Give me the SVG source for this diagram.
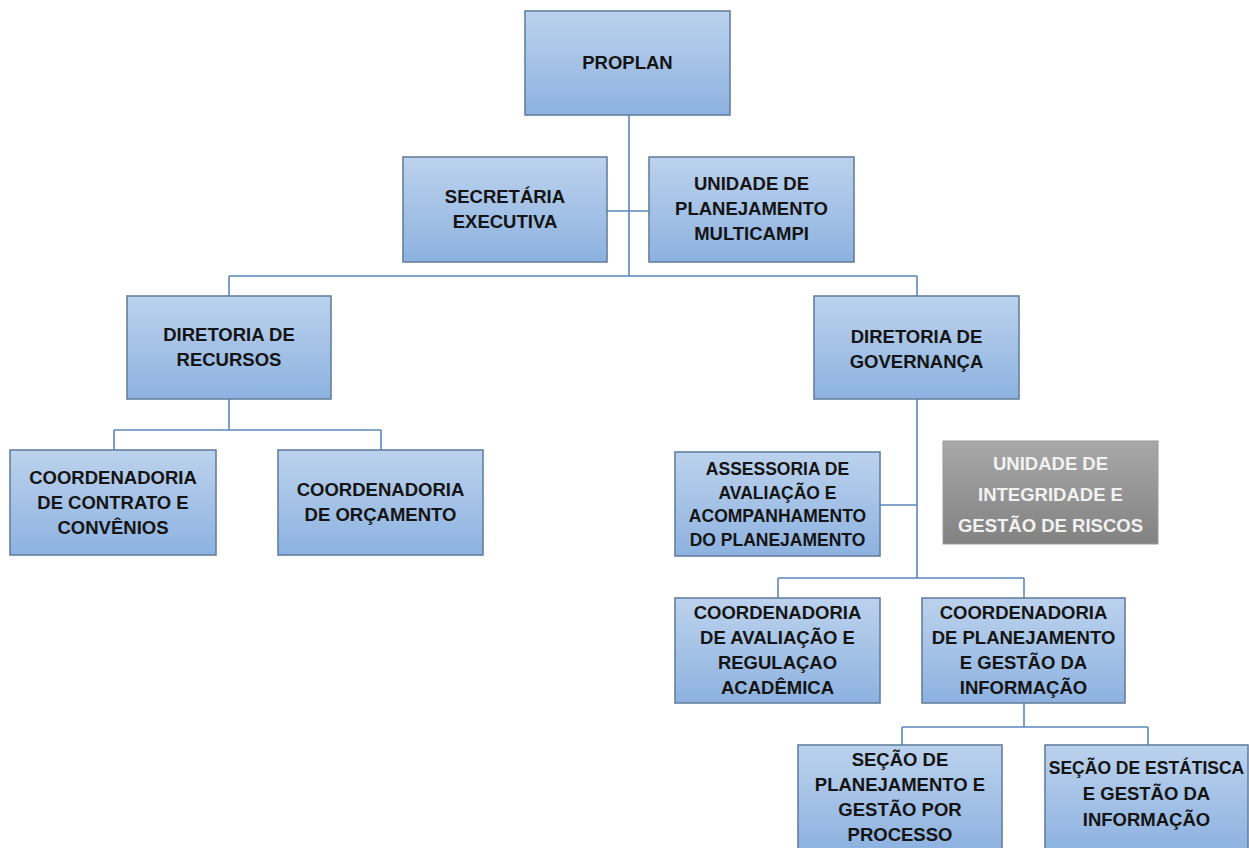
<svg xmlns="http://www.w3.org/2000/svg" width="1249" height="848" viewBox="0 0 1249 848">
<defs>
<linearGradient id="gb" x1="0" y1="0" x2="0" y2="1">
<stop offset="0" stop-color="#bcd2ed"/>
<stop offset="1" stop-color="#8db2e0"/>
</linearGradient>
<linearGradient id="gg" x1="0" y1="0" x2="0" y2="1">
<stop offset="0" stop-color="#a8a8a8"/>
<stop offset="1" stop-color="#828282"/>
</linearGradient>
<style>
.b{fill:url(#gb);stroke:#64809f;stroke-width:1.6}
.g{fill:url(#gg);stroke:#9a9a9a;stroke-width:1}
text{font-family:"Liberation Sans",Arial,sans-serif;font-weight:bold;font-size:18.5px;fill:#141414;text-anchor:middle}
.w{fill:#f2f2f2}
.s{font-size:17.5px}
.c line{stroke:#5b87ba;stroke-width:1.6}
</style>
</defs>
<rect width="1249" height="848" fill="#ffffff"/>
<g class="c" id="connectors">
<line x1="629" y1="115" x2="629" y2="276"/>
<line x1="607" y1="211" x2="649" y2="211"/>
<line x1="229" y1="276" x2="917" y2="276"/>
<line x1="229" y1="276" x2="229" y2="296"/>
<line x1="917" y1="276" x2="917" y2="296"/>
<line x1="229" y1="399" x2="229" y2="430"/>
<line x1="114" y1="430" x2="381" y2="430"/>
<line x1="114" y1="430" x2="114" y2="450"/>
<line x1="381" y1="430" x2="381" y2="450"/>
<line x1="917" y1="399" x2="917" y2="578"/>
<line x1="880" y1="505" x2="917" y2="505"/>
<line x1="778" y1="578" x2="1024" y2="578"/>
<line x1="778" y1="578" x2="778" y2="598"/>
<line x1="1024" y1="578" x2="1024" y2="598"/>
<line x1="1024" y1="703" x2="1024" y2="727"/>
<line x1="902" y1="727" x2="1148" y2="727"/>
<line x1="902" y1="727" x2="902" y2="745"/>
<line x1="1148" y1="727" x2="1148" y2="745"/>
</g>
<g id="proplan"><rect class="b" x="525" y="11" width="205" height="104"/><text x="627.5" y="69">PROPLAN</text></g>
<g id="secretaria"><rect class="b" x="403" y="157" width="204" height="105"/><text x="505" y="203">SECRETÁRIA</text><text x="505" y="228">EXECUTIVA</text></g>
<g id="unidade-multicampi"><rect class="b" x="649" y="157" width="205" height="105"/><text x="751.5" y="190">UNIDADE DE</text><text x="751.5" y="215">PLANEJAMENTO</text><text x="751.5" y="240">MULTICAMPI</text></g>
<g id="dir-recursos"><rect class="b" x="127" y="296" width="204" height="103"/><text x="229" y="341">DIRETORIA DE</text><text x="229" y="366">RECURSOS</text></g>
<g id="dir-governanca"><rect class="b" x="814" y="296" width="205" height="103"/><text x="916.5" y="343">DIRETORIA DE</text><text x="916.5" y="368">GOVERNANÇA</text></g>
<g id="coord-contrato"><rect class="b" x="10" y="450" width="206" height="105"/><text x="113" y="484">COORDENADORIA</text><text x="113" y="509">DE CONTRATO E</text><text x="113" y="534">CONVÊNIOS</text></g>
<g id="coord-orcamento"><rect class="b" x="278" y="450" width="205" height="105"/><text x="380.5" y="496">COORDENADORIA</text><text x="380.5" y="521">DE ORÇAMENTO</text></g>
<g id="assessoria"><rect class="b" x="675" y="452" width="205" height="104"/><text class="s" x="777.5" y="475">ASSESSORIA DE</text><text class="s" x="777.5" y="498.5">AVALIAÇÃO E</text><text class="s" x="777.5" y="522">ACOMPANHAMENTO</text><text class="s" x="777.5" y="545.5">DO PLANEJAMENTO</text></g>
<g id="unidade-integridade"><rect class="g" x="943" y="441" width="215" height="103"/><text class="w" x="1050.5" y="470">UNIDADE DE</text><text class="w" x="1050.5" y="501">INTEGRIDADE E</text><text class="w" x="1050.5" y="532">GESTÃO DE RISCOS</text></g>
<g id="coord-avaliacao"><rect class="b" x="675" y="598" width="205" height="105"/><text x="777.5" y="619">COORDENADORIA</text><text x="777.5" y="644">DE AVALIAÇÃO E</text><text x="777.5" y="669">REGULAÇAO</text><text x="777.5" y="694">ACADÊMICA</text></g>
<g id="coord-planejamento"><rect class="b" x="922" y="598" width="203" height="105"/><text x="1023.5" y="619">COORDENADORIA</text><text x="1023.5" y="644">DE PLANEJAMENTO</text><text x="1023.5" y="669">E GESTÃO DA</text><text x="1023.5" y="694">INFORMAÇÃO</text></g>
<g id="secao-planejamento"><rect class="b" x="798" y="745" width="204" height="106"/><text x="900" y="766">SEÇÃO DE</text><text x="900" y="791">PLANEJAMENTO E</text><text x="900" y="816">GESTÃO POR</text><text x="900" y="841">PROCESSO</text></g>
<g id="secao-estatistica"><rect class="b" x="1045" y="745" width="203" height="106"/><text class="s" x="1146.5" y="774">SEÇÃO DE ESTÁTISCA</text><text x="1146.5" y="800">E GESTÃO DA</text><text x="1146.5" y="826">INFORMAÇÃO</text></g>
</svg>
